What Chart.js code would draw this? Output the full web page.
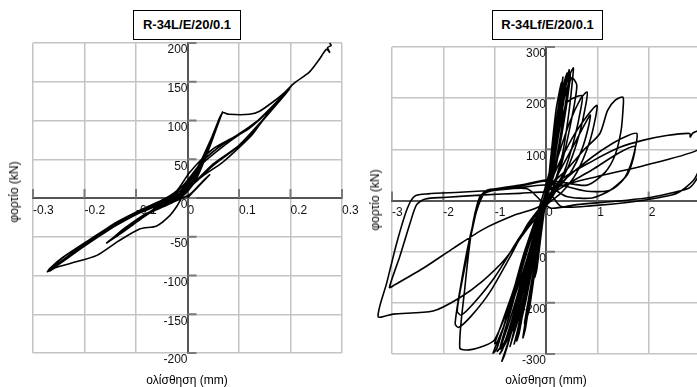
<!DOCTYPE html>
<html>
<head>
<meta charset="utf-8">
<script src="https://cdn.jsdelivr.net/npm/chart.js@4/dist/chart.umd.min.js"></script>
<style>
  body { margin: 0; width: 697px; height: 387px; overflow: hidden; background: #fff; position: relative;
         font-family: "Liberation Sans", Arial, sans-serif; }
  .wrap { position: absolute; top: 0; height: 387px; }
  .title { position: absolute; border: 1px solid #000; font-weight: bold; font-size: 13px;
           text-align: center; box-sizing: border-box; line-height: 28px; background: #fff; }
  .ytitle, .xtitle { position: absolute; font-size: 12px; white-space: nowrap; color: #000; }
  .ytitle { transform: translate(-50%, -50%) rotate(-90deg); }
  .xtitle { transform: translate(-50%, -50%); }
</style>
</head>
<body>
<div class="wrap" style="left:0;width:364px"><canvas id="leftChart" width="364" height="387"></canvas></div>
<div class="wrap" style="left:350px;width:360px"><canvas id="rightChart" width="360" height="387"></canvas></div>

<div class="title" style="left:133px;top:10px;width:108px;height:30px">R-34L/E/20/0.1</div>
<div class="title" style="left:492px;top:10px;width:111px;height:30px">R-34Lf/E/20/0.1</div>
<div class="ytitle" style="left:14px;top:192px">φορτίο (kN)</div>
<div class="ytitle" style="left:375px;top:200px">φορτίο (kN)</div>
<div class="xtitle" style="left:187px;top:380px">ολίσθηση (mm)</div>
<div class="xtitle" style="left:546px;top:380px">ολίσθηση (mm)</div>

<script>
// tick values
const leftXTicks = [-0.3, -0.2, -0.1, 0, 0.1, 0.2, 0.3];
const leftYTicks = [-200, -150, -100, -50, 0, 50, 100, 150, 200];
const rightXTicks = [-3, -2, -1, 0, 1, 2, 3];
const rightYTicks = [-300, -200, -100, 0, 100, 200, 300];

// R-34L/E/20/0.1 : slip (mm) / load (kN)
const leftSlip = [0, 0.02, 0.043, 0.03, 0.005, -0.03, -0.06, -0.04, -0.01, 0.015, 0.035, 0.052, 0.066, 0.06, 0.045, 0.028,
  0.005, -0.03, -0.08, -0.12, -0.153, -0.125, -0.087, -0.05, -0.015, 0.012, 0.035, 0.055, 0.068, 0.064, 0.05, 0.03, 0.01,
  -0.025, -0.075, -0.12, -0.157, -0.13, -0.09, -0.045, -0.01, 0.02, 0.045, 0.068, 0.08, 0.12, 0.14, 0.172, 0.198, 0.19,
  0.145, 0.126, 0.1, 0.068, 0.029, 0.0, -0.02, -0.035, -0.06, -0.093, -0.135, -0.176, -0.225, -0.257, -0.267, -0.25, -0.2,
  -0.145, -0.09, -0.05, -0.02, 0.004, 0.049, 0.094, 0.139, 0.17, 0.202, 0.19, 0.145, 0.1, 0.05, 0.01, -0.03, -0.08, -0.14,
  -0.2, -0.245, -0.27, -0.252, -0.2, -0.14, -0.09, -0.045, -0.01, 0.03, 0.07, 0.12, 0.16, 0.205, 0.19, 0.15, 0.12, 0.09,
  0.05, 0.015, -0.02, -0.07, -0.13, -0.19, -0.24, -0.272, -0.255, -0.2, -0.15, -0.1, -0.05, -0.01, 0.03, 0.08, 0.13, 0.17,
  0.205, 0.236, 0.255, 0.27, 0.276, 0.272, 0.279, 0.276];
const leftLoad = [0, 14, 30, 22, 5, -6, -15, -8, 2, 22, 52, 82, 108, 100, 70, 45,
  15, -4, -20, -38, -56, -42, -24, -8, 6, 28, 58, 90, 111, 104, 80, 50, 22,
  -2, -20, -40, -58, -46, -27, -6, 12, 40, 75, 110, 108, 108, 112, 127, 141, 134,
  99, 82, 65, 46, 28, 12, -10, -23, -36, -40, -56, -74, -84, -90, -94, -84, -60,
  -34, -15, -3, 10, 33, 63, 80, 101, 120, 145, 135, 100, 68, 44, 18, -3, -14, -33,
  -58, -78, -93, -86, -62, -36, -18, -4, 15, 48, 70, 90, 114, 147, 137, 104, 80, 62,
  42, 20, 0, -13, -30, -55, -76, -95, -88, -62, -40, -20, -4, 15, 45, 72, 96, 122,
  147, 162, 178, 192, 188, 194, 197, 200];

// R-34Lf/E/20/0.1 : slip (mm) / load (kN)
const rightSlip = [0,
  0.05, 0.12, 0.17, 0.14, 0.07, 0, -0.07, -0.15, -0.22, -0.18, -0.1, -0.02,
  0.06, 0.15, 0.25, 0.23, 0.15, 0.05, -0.05, -0.17, -0.3, -0.38, -0.33, -0.22, -0.1, 0,
  0.1, 0.22, 0.33, 0.31, 0.22, 0.1, 0, -0.12, -0.28, -0.45, -0.4, -0.28, -0.12, 0.02,
  0.1, 0.2, 0.3, 0.28, 0.18, 0.05, -0.1, -0.3, -0.42, -0.38, -0.22, -0.05,
  0.15, 0.3, 0.41, 0.4, 0.3, 0.15, 0.02, -0.15, -0.38, -0.57, -0.52, -0.38, -0.18, 0,
  0.1, 0.25, 0.45, 0.44, 0.35, 0.2, 0.05, -0.15, -0.45, -0.7, -0.66, -0.48, -0.25, -0.05,
  0.2, 0.38, 0.53, 0.52, 0.45, 0.32, 0.12, -0.08, -0.35, -0.65, -0.86, -0.8, -0.6, -0.35, -0.1,
  0.12, 0.3, 0.5, 0.6, 0.5, 0.3, 0.1, -0.15, -0.5, -0.8, -0.95, -0.88, -0.6, -0.3, -0.05,
  0.15, 0.45, 0.68, 0.8, 0.78, 0.65, 0.45, 0.2, -0.1, -0.45, -0.8, -1.03, -0.96, -0.75, -0.45, -0.15,
  0.1, 0.25, 0.37, 0.35, 0.22, 0.08, -0.1, -0.35, -0.62, -0.58, -0.4, -0.15, 0,
  0.12, 0.28, 0.47, 0.46, 0.36, 0.18, 0, -0.25, -0.55, -0.9, -0.85, -0.6, -0.3, -0.05,
  0.15, 0.4, 0.7, 0.68, 0.55, 0.35, 0.1, -0.2, -0.55, -0.78, -0.72, -0.5, -0.2, 0,
  0.15, 0.5, 0.8, 0.99, 0.97, 0.85, 0.6, 0.3, 0, -0.3, -0.65, -0.95, -1.0, -0.9, -0.65, -0.35, -0.05,
  0.2, 0.55, 0.86, 0.83, 0.7, 0.45, 0.15, -0.1, -0.4, -0.7, -0.9, -0.8, -0.55, -0.25, 0,
  0.1, 0.4, 0.75, 1.05, 1.2, 1.35, 1.5, 1.5, 1.46, 1.35, 1.15, 0.8, 0.35, 0,
  -0.5, -1.0, -1.2, -1.35, -1.5, -1.65, -1.77, -1.7, -1.45, -1.1, -0.7, -0.35, 0,
  0.3, 0.9, 1.3, 1.6, 1.77, 1.75, 1.65, 1.5, 1.25, 0.8, 0.3, 0,
  -0.5, -0.9, -1.15, -1.3, -1.45, -1.58, -1.68, -1.5, -1.2, -1.0, -0.7, -0.35, 0,
  0.3, 0.9, 1.4, 1.73, 1.7, 1.58, 1.25, 0.9, 0.4, 0,
  -0.5, -1.0, -1.25, -1.4, -1.6, -1.73, -1.65, -1.4, -1.0, -0.5, 0,
  0.05, 1.0, 1.9, 2.94, 3.05, 3.1, 3.0, 2.87, 2.55, 2.22, 1.58, 0.92, 0.3, 0.05,
  -0.5, -1.2, -2.0, -2.35, -2.52, -2.65, -2.85, -3.05, -2.95, -2.4, -1.8, -1.2, -0.6, -0.1,
  0.27, 0.92, 1.44, 1.9, 2.35, 2.8, 2.81, 2.86, 3.05, 3.08, 2.98, 2.8, 2.5, 2.03, 1.3, 0.6, 0.1, -0.1,
  -0.37, -1.0, -1.68, -2.3, -2.55, -2.7, -2.9, -3.1, -3.27, -2.98, -2.2, -1.68, -1.23, -0.8, -0.4, 0];
const rightLoad = [0,
  40, 100, 140, 125, 60, 5, -40, -100, -150, -135, -70, -10,
  50, 120, 190, 175, 110, 35, -25, -100, -180, -230, -215, -140, -55, 10,
  80, 170, 241, 225, 150, 60, 0, -60, -160, -268, -250, -170, -70, 15,
  90, 180, 230, 200, 110, 30, -50, -170, -240, -225, -130, -20,
  110, 210, 249, 232, 165, 70, 10, -70, -190, -274, -258, -180, -80, 10,
  60, 170, 255, 235, 170, 80, 20, -60, -200, -285, -270, -190, -90, -10,
  130, 225, 259, 240, 175, 90, 20, -30, -140, -250, -314, -300, -230, -120, -20,
  70, 180, 240, 225, 160, 70, 15, -50, -190, -275, -295, -285, -200, -90, 0,
  60, 150, 200, 212, 190, 130, 70, 20, -30, -140, -240, -298, -290, -220, -110, -20,
  70, 180, 235, 210, 120, 40, -40, -170, -280, -265, -180, -60, 10,
  90, 200, 250, 230, 160, 60, 0, -100, -230, -300, -292, -210, -90, 0,
  80, 190, 205, 180, 120, 55, 10, -60, -210, -270, -262, -180, -60, 5,
  50, 120, 165, 186, 165, 115, 55, 15, -10, -70, -180, -265, -280, -270, -190, -90, 0,
  45, 110, 167, 145, 100, 50, 15, -20, -110, -220, -290, -280, -200, -80, 0,
  30, 60, 100, 131, 176, 196, 202, 178, 135, 90, 55, 30, 35, 40,
  30, 22, 14, -20, -80, -160, -241, -248, -225, -180, -110, -45, 0,
  35, 85, 112, 127, 131, 108, 70, 40, 20, 18, 30, 38,
  28, 24, 20, 5, -60, -170, -288, -292, -284, -272, -200, -90, 0,
  25, 60, 92, 106, 82, 50, 20, 5, 8, 30,
  25, 20, 10, -40, -140, -216, -224, -200, -150, -70, 0,
  20, 47, 68, 98, 120, 100, 65, 39, 14, 6, -4, -10, -12, 15,
  14, 11, 6, 3, -8, -45, -110, -170, -165, -133, -93, -55, -28, -10,
  39, 78, 104, 118, 127, 131, 124, 132, 137, 90, 50, 25, 16, 6, -2, -8, -15, 0,
  23, 20, 16, 13, 9, -15, -80, -160, -227, -222, -216, -190, -157, -115, -60, -10];

const tickMarks = {
  id: "tickMarks",
  beforeDatasetsDraw(chart) {
    const { ctx, scales: { x, y } } = chart;
    const x0 = x.getPixelForValue(0);
    const y0 = y.getPixelForValue(0);
    ctx.save();
    ctx.strokeStyle = "#7a7a7a";
    ctx.lineWidth = 2;
    ctx.beginPath();
    y.ticks.forEach((t) => {
      const py = y.getPixelForValue(t.value);
      ctx.moveTo(x0, py);
      ctx.lineTo(x0 + 9, py);
    });
    x.ticks.forEach((t) => {
      const px = x.getPixelForValue(t.value);
      ctx.moveTo(px, y0);
      ctx.lineTo(px, y0 - 9);
    });
    ctx.stroke();
    ctx.restore();
  },
};

function noPadding(scale) {
  scale.paddingLeft = scale.paddingRight = scale.paddingTop = scale.paddingBottom = 0;
}

function makeConfig(slip, load, xTicks, yTicks, padding) {
  return {
    type: "scatter",
    data: {
      datasets: [
        {
          data: slip.map((v, i) => ({ x: v, y: load[i] })),
          showLine: true,
          clip: false,
          borderColor: "#000",
          borderWidth: 1.6,
          pointRadius: 0,
          tension: 0.25,
        },
      ],
    },
    plugins: [tickMarks],
    options: {
      responsive: false,
      animation: false,
      layout: { padding: padding },
      scales: {
        x: {
          type: "linear",
          position: { y: 0 },
          min: xTicks[0],
          max: xTicks[xTicks.length - 1],
          afterBuildTicks: (s) => { s.ticks = xTicks.map((v) => ({ value: v })); },
          afterFit: noPadding,
          grid: { color: "#c4c4c4", lineWidth: 1.5, drawTicks: false },
          border: { color: "#555", width: 2 },
          ticks: { align: "start", padding: 5, color: "#111", font: { size: 12 },
                   maxRotation: 0, autoSkip: false, callback: (v) => String(v) },
        },
        y: {
          type: "linear",
          position: { x: 0 },
          min: yTicks[0],
          max: yTicks[yTicks.length - 1],
          afterBuildTicks: (s) => { s.ticks = yTicks.map((v) => ({ value: v })); },
          afterFit: noPadding,
          grid: { color: "#c4c4c4", lineWidth: 1.5, drawTicks: false },
          border: { color: "#555", width: 2 },
          ticks: { padding: 5, labelOffset: 7, color: "#111", font: { size: 12 },
                   autoSkip: false, callback: (v) => String(v) },
        },
      },
      plugins: {
        legend: { display: false },
        tooltip: { enabled: false },
      },
    },
  };
}

Chart.defaults.font.family = "'Liberation Sans', Arial, sans-serif";

var leftChart = new Chart(document.getElementById("leftChart"),
  makeConfig(leftSlip, leftLoad, leftXTicks, leftYTicks, { left: 33, right: 22, top: 43, bottom: 34 }));
var rightChart = new Chart(document.getElementById("rightChart"),
  makeConfig(rightSlip, rightLoad, rightXTicks, rightYTicks, { left: 42, right: 10, top: 47, bottom: 33 }));
</script>
</body>
</html>
